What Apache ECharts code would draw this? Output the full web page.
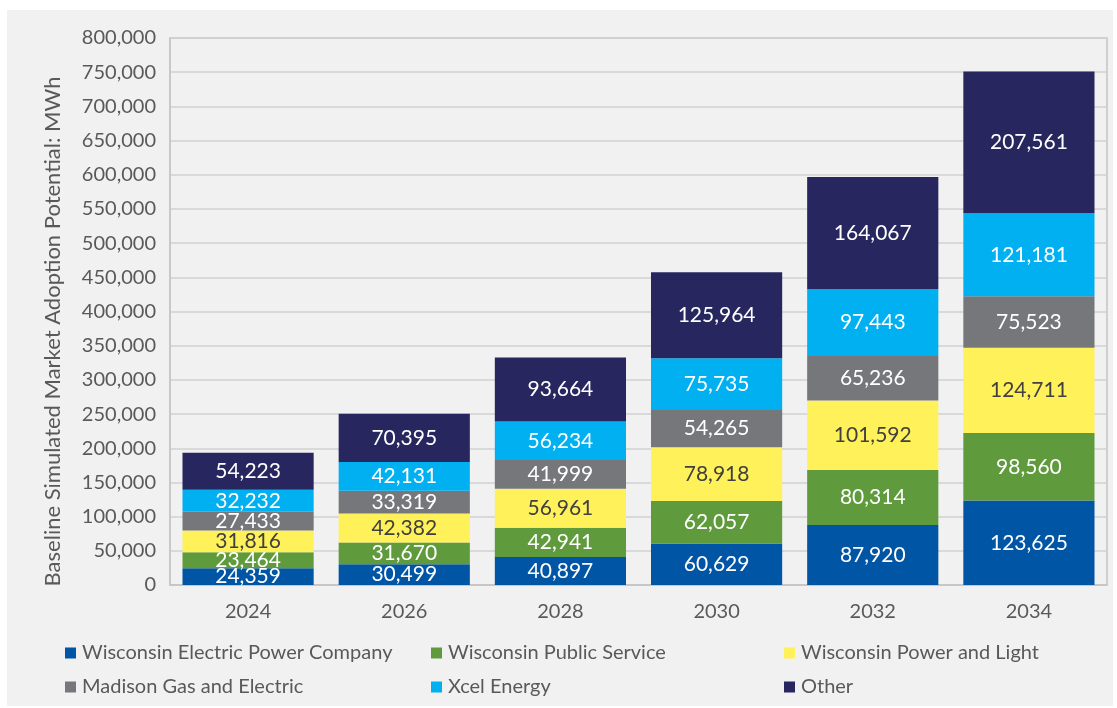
<!DOCTYPE html>
<html>
<head>
<meta charset="utf-8">
<script src="https://cdn.jsdelivr.net/npm/echarts@6/dist/echarts.min.js"></script>
<style>
html,body{margin:0;padding:0;background:#fff;}
#main{position:absolute;left:7px;top:10px;width:1106px;height:696px;background:#f1f1f1;}
</style>
</head>
<body>
<div id="main"></div>
<script>
var years = ['2024', '2026', '2028', '2030', '2032', '2034'];
var seriesNames = ['Wisconsin Electric Power Company', 'Wisconsin Public Service', 'Wisconsin Power and Light',
    'Madison Gas and Electric', 'Xcel Energy', 'Other'];
var wepc = [24359, 30499, 40897, 60629, 87920, 123625];
var wps = [23464, 31670, 42941, 62057, 80314, 98560];
var wpl = [31816, 42382, 56961, 78918, 101592, 124711];
var mge = [27433, 33319, 41999, 54265, 65236, 75523];
var xcel = [32232, 42131, 56234, 75735, 97443, 121181];
var other = [54223, 70395, 93664, 125964, 164067, 207561];
var colors = ['#0055a5', '#5f9a3c', '#fff159', '#75777b', '#00b0f0', '#27265f'];
var labelColors = ['#ffffff', '#ffffff', '#404040', '#ffffff', '#ffffff', '#ffffff'];
var allData = [wepc, wps, wpl, mge, xcel, other];

var FONT = 'Lato';
var chart = echarts.init(document.getElementById('main'));

var series = [];
for (var i = 0; i < seriesNames.length; i++) {
    series.push({
        name: seriesNames[i],
        type: 'bar',
        stack: 'total',
        barCategoryGap: '16%',
        itemStyle: {color: colors[i]},
        label: {
            show: true,
            position: 'inside',
            color: labelColors[i],
            fontFamily: FONT,
            fontSize: 21,
            formatter: function (p) {
                return p.value.toLocaleString('en-US');
            }
        },
        data: allData[i]
    });
}

function legendCol(left, names) {
    return {
        orient: 'vertical',
        left: left,
        top: 628,
        itemGap: 14,
        itemWidth: 11,
        itemHeight: 11,
        icon: 'rect',
        data: names,
        textStyle: {fontFamily: FONT, fontSize: 20, color: '#595959', padding: [0, 0, 0, 1]}
    };
}

chart.setOption({
    animation: false,
    grid: {left: 163, right: 6, top: 28, bottom: 121, show: true, borderColor: '#c4c4c4', borderWidth: 1.5},
    legend: [
        legendCol(53, [seriesNames[0], seriesNames[3]]),
        legendCol(419, [seriesNames[1], seriesNames[4]]),
        legendCol(772, [seriesNames[2], seriesNames[5]])
    ],
    xAxis: {
        type: 'category',
        data: years,
        axisTick: {show: false},
        axisLine: {lineStyle: {color: '#c4c4c4', width: 1.5}},
        axisLabel: {fontFamily: FONT, fontSize: 20, color: '#595959', margin: 17}
    },
    yAxis: {
        type: 'value',
        min: 0,
        max: 800000,
        interval: 50000,
        name: 'Baseline Simulated Market Adoption Potential: MWh',
        nameLocation: 'middle',
        nameGap: 106,
        nameTextStyle: {fontFamily: FONT, fontSize: 22, color: '#595959', padding: [0, 40, 0, 0]},
        axisLine: {show: true, lineStyle: {color: '#c4c4c4', width: 1.5}},
        splitLine: {lineStyle: {color: '#d0d0d0', width: 1.5}},
        axisLabel: {
            fontFamily: FONT, fontSize: 20, color: '#595959', margin: 14,
            formatter: function (v) { return v.toLocaleString('en-US'); }
        }
    },
    series: series
});
</script>
</body>
</html>
